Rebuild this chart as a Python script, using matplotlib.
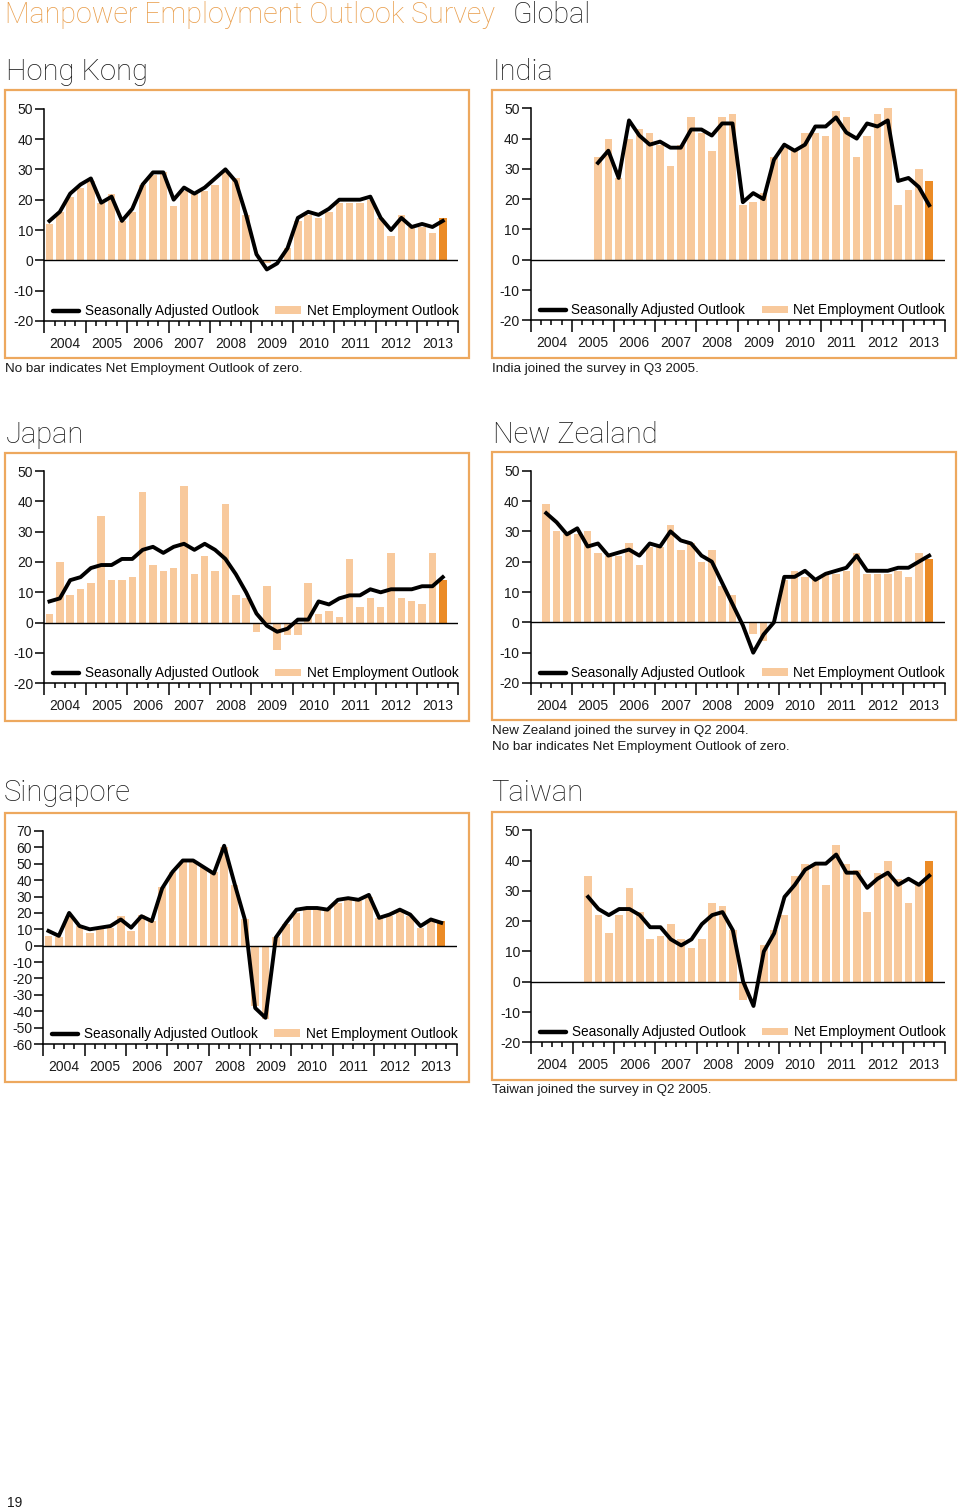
import numpy as np
import matplotlib
matplotlib.use("Agg")
import matplotlib.pyplot as plt
from matplotlib.lines import Line2D
from matplotlib.patches import Patch, Rectangle

nan = np.nan

# quarters 2004 Q1 .. 2013 Q3 (39 quarters), axis runs to end of 2013
years = list(range(2004, 2014))

hk_neo = [12, 16, 21, 24, 26, 19, 22, 13, 16, 25, 28, 29, 18, 23, 22, 23, 25, 29, 27, 15,
          0, -1, 0, 4, 13, 15, 14, 16, 19, 19, 19, 20, 14, 8, 15, 11, 11, 9, 14]
hk_sa = [13, 16, 22, 25, 27, 19, 21, 13, 17, 25, 29, 29, 20, 24, 22, 24, 27, 30, 26, 15,
         2, -3, -1, 4, 14, 16, 15, 17, 20, 20, 20, 21, 14, 10, 14, 11, 12, 11, 13]

india_neo = [nan] * 6 + [34, 40, 27, 40, 43, 42, 38, 31, 38, 47, 42, 36, 47, 48, 18, 19, 22,
                         34, 37, 36, 42, 42, 41, 49, 47, 34, 41, 48, 53, 18, 23, 30, 26]
india_sa = [nan] * 6 + [32, 36, 27, 46, 41, 38, 39, 37, 37, 43, 43, 41, 45, 45, 19, 22, 20,
                        33, 38, 36, 38, 44, 44, 47, 42, 40, 45, 44, 46, 26, 27, 24, 18]

japan_neo = [3, 20, 9, 11, 13, 35, 14, 14, 15, 43, 19, 17, 18, 45, 16, 22, 17, 39, 9, 8,
             -3, 12, -9, -4, -4, 13, 3, 4, 2, 21, 5, 8, 5, 23, 8, 7, 6, 23, 14]
japan_sa = [7, 8, 14, 15, 18, 19, 19, 21, 21, 24, 25, 23, 25, 26, 24, 26, 24, 21, 16, 10,
            3, -1, -3, -2, 1, 1, 7, 6, 8, 9, 9, 11, 10, 11, 11, 11, 12, 12, 15]

nz_neo = [nan] + [39, 30, 29, 29, 30, 23, 22, 22, 26, 19, 25, 25, 32, 24, 26, 20, 24, 12, 9,
                  0, -4, -6, 0, 14, 17, 15, 14, 16, 16, 17, 23, 16, 16, 16, 17, 15, 23, 21]
nz_sa = [nan] + [36, 33, 29, 31, 25, 26, 22, 23, 24, 22, 26, 25, 30, 27, 26, 22, 20, 13, 6,
                 -1, -10, -4, 0, 15, 15, 17, 14, 16, 17, 18, 22, 17, 17, 17, 18, 18, 20, 22]

sg_neo = [6, 5, 18, 12, 8, 10, 11, 18, 9, 19, 15, 36, 45, 51, 51, 48, 45, 60, 37, 16,
          -37, -45, 5, 13, 20, 22, 22, 23, 26, 28, 27, 30, 17, 18, 21, 18, 11, 15, 15]
sg_sa = [9, 6, 20, 12, 10, 11, 12, 16, 11, 18, 15, 35, 45, 52, 52, 48, 44, 61, 38, 16,
         -38, -44, 5, 14, 22, 23, 23, 22, 28, 29, 28, 31, 17, 19, 22, 19, 12, 16, 14]

tw_neo = [nan] * 5 + [35, 22, 16, 22, 31, 23, 14, 15, 19, 14, 11, 14, 26, 25, 17, -6, 0, 12,
                      17, 22, 35, 39, 39, 32, 45, 39, 37, 23, 36, 40, 34, 26, 32, 40]
tw_sa = [nan] * 5 + [28, 24, 22, 24, 24, 22, 18, 18, 14, 12, 14, 19, 22, 23, 17, 0, -8, 10,
                     16, 28, 32, 37, 39, 39, 42, 36, 36, 31, 34, 36, 32, 34, 32, 35]

W, H = 960, 1509
PEACH = "#F8C99C"
ORANGE = "#EB8B26"
BORDER = "#EDA85E"
HEAD = "#E99E4C"
TXT = "#1a1a1a"
plt.rcParams["font.family"] = ["Liberation Sans", "DejaVu Sans"]
plt.rcParams["axes.unicode_minus"] = False
TITLE_FONT = ["Roboto", "Liberation Sans"]

fig = plt.figure(figsize=(W / 100, H / 100), dpi=100)


def fx(x):
    return x / W


def fy(y):
    return 1 - y / H


def panel(title, neo, sa, box, ax_px, ylim, yticks, notes, title_xy):
    bx0, by0, bx1, by1 = box
    fig.patches.append(Rectangle((fx(bx0), fy(by1)), fx(bx1 - bx0), (by1 - by0) / H,
                                 transform=fig.transFigure, fill=False,
                                 edgecolor=BORDER, linewidth=1.6))
    fig.text(fx(title_xy[0]), fy(title_xy[1]), title, fontsize=21, color=TXT,
             family=TITLE_FONT, fontweight="light", va="baseline")
    for ny, note in notes:
        fig.text(fx(bx0), fy(ny), note, fontsize=9.6, color=TXT, va="baseline")

    x0, ytop, x1, ybot = ax_px
    ax = fig.add_axes([fx(x0), fy(ybot), fx(x1 - x0), (ybot - ytop) / H])
    neo = np.array(neo, dtype=float)
    sa = np.array(sa, dtype=float)
    xs = np.arange(len(neo)) + 0.5
    last = np.where(~np.isnan(neo))[0].max()
    colors = [ORANGE if i == last else PEACH for i in range(len(neo))]
    ax.bar(xs, np.nan_to_num(neo), width=0.72, color=colors, zorder=2)
    ax.axhline(0, color="black", linewidth=1.0, zorder=3)
    ax.plot(xs, sa, color="black", linewidth=2.8, zorder=4)

    ax.set_xlim(0, 40)
    ax.set_ylim(*ylim)
    ax.set_yticks(yticks)
    ax.set_xticks(np.arange(0, 41, 4))
    ax.set_xticks(np.arange(0, 41, 1), minor=True)
    ax.set_xticklabels([])
    for s in ["top", "right"]:
        ax.spines[s].set_visible(False)
    for s in ["left", "bottom"]:
        ax.spines[s].set_linewidth(1.1)
    ax.tick_params(axis="y", direction="out", length=6.5, width=1.1, pad=1.5,
                   labelsize=10, labelcolor=TXT)
    ax.tick_params(axis="x", which="major", direction="out", length=8.6, width=1.1)
    ax.tick_params(axis="x", which="minor", direction="out", length=3.6, width=1.1)
    hpx = ybot - ytop
    for k, yr in enumerate(years):
        ax.text(4 * k + 2, -23 / hpx, str(yr), transform=ax.get_xaxis_transform(),
                ha="center", va="center", fontsize=10, color=TXT)
    handles = [Line2D([], [], color="black", linewidth=3.2, solid_capstyle="round"),
               Patch(facecolor=PEACH, edgecolor="none")]
    ax.legend(handles, ["Seasonally Adjusted Outlook", "Net Employment Outlook"],
              loc="center left", bbox_to_anchor=(9 / (x1 - x0), 10 / hpx), ncol=2,
              frameon=False, fontsize=9.8, handlelength=1.9, handleheight=0.45,
              handletextpad=0.4, columnspacing=1.25, borderpad=0, borderaxespad=0)
    return ax


yt50 = np.arange(-20, 51, 10)
panel("Hong Kong", hk_neo, hk_sa, (5, 90, 469, 357.7), (44.3, 108.7, 458.3, 321),
      (-20, 50), yt50, [(372, "No bar indicates Net Employment Outlook of zero.")], (6, 80))
panel("India", india_neo, india_sa, (492, 90, 956, 358), (530.7, 108.3, 944.7, 320.3),
      (-20, 50), yt50, [(372, "India joined the survey in Q3 2005.")], (493, 80))
panel("Japan", japan_neo, japan_sa, (5, 453, 469, 720.7), (44.3, 471, 458.3, 683.3),
      (-20, 50), yt50, [], (6, 443))
panel("New Zealand", nz_neo, nz_sa, (492, 452, 956, 719.7), (530.7, 470.7, 944.7, 683),
      (-20, 50), yt50, [(734, "New Zealand joined the survey in Q2 2004."),
                        (750, "No bar indicates Net Employment Outlook of zero.")], (493, 443))
panel("Singapore", sg_neo, sg_sa, (5, 813, 469, 1081.7), (43.3, 831, 456.7, 1044),
      (-60, 70), np.arange(-60, 71, 10), [], (4, 801))
panel("Taiwan", tw_neo, tw_sa, (492, 812, 956, 1080), (531.3, 830.3, 944.7, 1042.3),
      (-20, 50), yt50, [(1093, "Taiwan joined the survey in Q2 2005.")], (491, 801))

fig.text(fx(5), fy(23), "Manpower Employment Outlook Survey", fontsize=20.6, color=HEAD,
         family=TITLE_FONT, fontweight="light", va="baseline")
fig.text(fx(513), fy(23), "Global", fontsize=20.6, color=TXT,
         family=TITLE_FONT, fontweight="light", va="baseline")
fig.text(fx(7), fy(1507), "19", fontsize=10, color=TXT, va="baseline")

fig.savefig("out.png", dpi=100, facecolor="white")
